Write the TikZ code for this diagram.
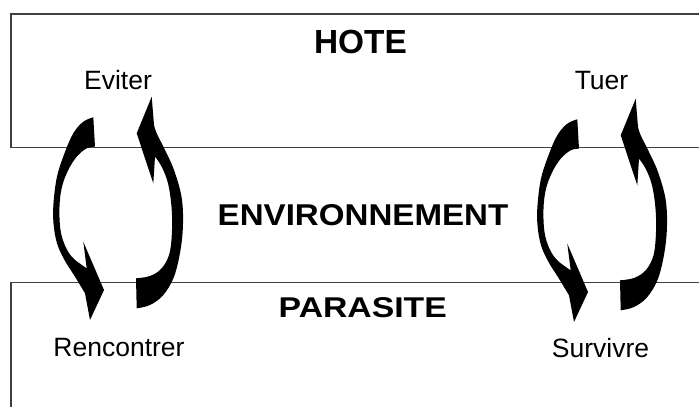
\documentclass[tikz,border=0pt]{standalone}
\usepackage{fontspec}
\setmainfont{Liberation Sans}
\usepackage{graphicx}
\begin{document}
\begin{tikzpicture}[x=1pt,y=-1pt,
  frame/.style={draw=black!75,line width=1.3pt},
  title/.style={inner sep=0pt,anchor=base,font=\bfseries},
  lbl/.style={inner sep=0pt,anchor=base,font=\fontsize{26.5}{30}\selectfont},
  band/.style={fill=black}]
\useasboundingbox (0,0) rectangle (699,407);
% zones
\draw[frame] (720,14) -- (11,14) -- (11,147.3) -- (720,147.3);
\draw[frame] (720,282.7) -- (11,282.7) -- (11,420);
% titles
\node[title] (hote) at (360.5,53) {\scalebox{1.0}[1]{\fontsize{33.4}{36}\selectfont HOTE}};
\node[title] (env) at (363,225.7) {\scalebox{1.10}[1]{\fontsize{30.1}{34}\selectfont ENVIRONNEMENT}};
\node[title] (para) at (362.8,317.3) {\scalebox{1.18}[1]{\fontsize{28.6}{32}\selectfont PARASITE}};
% labels
\node[lbl] (eviter) at (118,89) {Eviter};
\node[lbl] (tuer) at (601.5,89.3) {Tuer};
\node[lbl] (renc) at (119,356.7) {Rencontrer};
\node[lbl] (surv) at (600.5,357) {Survivre};
% curved arrows
\foreach \dx/\dy in {0/0,484/2}{
\begin{scope}[shift={(\dx,\dy)}]
\fill[band] (93.3,117.3) -- (95,146.7)
  -- plot[smooth,tension=0.6] coordinates {(95,146.7) (86.7,148.3) (76.7,156.7) (68.3,170) (62,186.7) (59.5,206.7) (60.5,230) (65.5,246.7) (73.3,258.3) (86.7,268.3)}
  -- (83.3,241.7) -- (104,290) -- (90,320)
  -- plot[smooth,tension=0.6] coordinates {(85,293.3) (75,276.7) (64.5,260) (57,243.3) (53.5,223.3) (53.5,203.3) (57,176.7) (64.5,153.3) (73.3,133.3) (83.3,121.7) (93.3,117.3)}
  -- cycle;
\fill[band] (136,278.3) -- (136.7,308.3)
  -- plot[smooth,tension=0.6] coordinates {(136.7,308.3) (150,305) (163.3,295) (174,276.7) (180.5,250) (183,223.3) (181.5,196.7) (174,170) (165,150) (156.7,133.3) (154,125)}
  -- (151.7,96.7) -- (136.7,133.3) -- (153.3,183.3) -- (155,156.7)
  -- plot[smooth,tension=0.6] coordinates {(155,156.7) (161.7,166.7) (168,183.3) (171.5,206.7) (172,230) (169.5,253.3) (161.7,268.3) (150,276) (136,278.3)}
  -- cycle;
\end{scope}}
\end{tikzpicture}
\end{document}
